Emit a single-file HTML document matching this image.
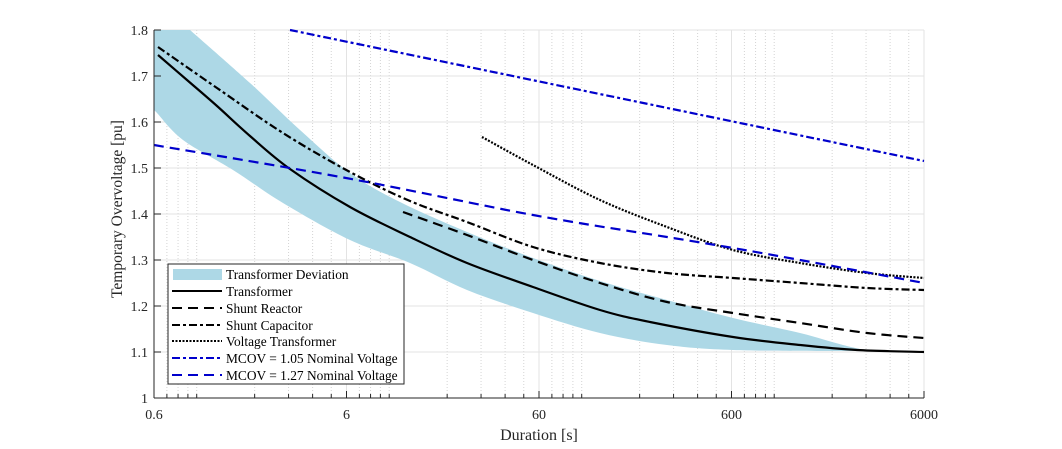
<!DOCTYPE html>
<html><head><meta charset="utf-8"><style>
body{margin:0;background:#fff;}
svg{display:block;font-family:"Liberation Serif",serif;}
</style></head><body>
<svg id="s" width="1062" height="449" viewBox="0 0 1062 449" xmlns="http://www.w3.org/2000/svg">
<g id="grid"></g>
<g id="band"></g>
<g id="curves" fill="none" stroke-width="2.2"></g>
<line x1="154" y1="30" x2="154" y2="398" stroke="#262626" stroke-width="1"/>
<line x1="154" y1="398" x2="924" y2="398" stroke="#262626" stroke-width="1"/>
<g id="ticks"></g>
<g font-size="14" fill="#262626" id="labels"></g>
<text x="539" y="440" font-size="16" text-anchor="middle" fill="#262626">Duration [s]</text>
<text transform="translate(122,209) rotate(-90)" font-size="15.5" text-anchor="middle" fill="#262626">Temporary Overvoltage [pu]</text>
<rect x="168" y="264" width="236" height="120" fill="#fff" stroke="#262626" stroke-width="1"/>
<rect x="173" y="269" width="49" height="11" fill="#add8e6"/>
<g stroke-width="2">
<line x1="172" y1="291" x2="222" y2="291" stroke="#000"/>
<line x1="172" y1="308" x2="222" y2="308" stroke="#000" stroke-dasharray="10,6"/>
<line x1="172" y1="325" x2="222" y2="325" stroke="#000" stroke-dasharray="8,3,3,3"/>
<line x1="172" y1="341" x2="222" y2="341" stroke="#000" stroke-dasharray="2,1.5"/>
<line x1="172" y1="358" x2="222" y2="358" stroke="#0000cc" stroke-dasharray="8,3,3,3"/>
<line x1="172" y1="375" x2="222" y2="375" stroke="#0000cc" stroke-dasharray="10,6"/>
</g>
<g font-size="13.4" fill="#000">
<text x="226" y="279">Transformer Deviation</text>
<text x="226" y="296">Transformer</text>
<text x="226" y="313">Shunt Reactor</text>
<text x="226" y="330">Shunt Capacitor</text>
<text x="226" y="346">Voltage Transformer</text>
<text x="226" y="363">MCOV = 1.05 Nominal Voltage</text>
<text x="226" y="380">MCOV = 1.27 Nominal Voltage</text>
</g>
</svg>
<script>
var ns="http://www.w3.org/2000/svg";
function el(p,t,a,txt){var e=document.createElementNS(ns,t);for(var k in a)e.setAttribute(k,a[k]);if(txt)e.textContent=txt;document.getElementById(p).appendChild(e);return e;}
function X(v){return 154+192.5*Math.log10(v/0.6);}
function Y(v){return 398-(v-1)*460;}
function cr(P,move){var d=move?"M"+P[0][0]+","+P[0][1]:"L"+P[0][0]+","+P[0][1];
for(var i=0;i<P.length-1;i++){var p0=P[Math.max(0,i-1)],p1=P[i],p2=P[i+1],p3=P[Math.min(P.length-1,i+2)];
d+=" C"+(p1[0]+(p2[0]-p0[0])/6)+","+(p1[1]+(p2[1]-p0[1])/6)+" "+(p2[0]-(p3[0]-p1[0])/6)+","+(p2[1]-(p3[1]-p1[1])/6)+" "+p2[0]+","+p2[1];}return d;}
var ms=[0.7,0.8,0.9,1,2,3,4,5];
for(var d=0;d<4;d++){var f=Math.pow(10,d);for(var i=0;i<ms.length;i++){var v=ms[i]*f;if(v>=6000)continue;var x=X(v);
el("grid","line",{x1:x,y1:30,x2:x,y2:398,stroke:"#d4d4d4","stroke-width":1,"stroke-dasharray":"1,2"});
el("ticks","line",{x1:x,y1:398,x2:x,y2:394,stroke:"#262626","stroke-width":1});}}
var maj=[0.6,6,60,600,6000],lab=["0.6","6","60","600","6000"];
for(var i=0;i<5;i++){var x=X(maj[i]);
el("grid","line",{x1:x,y1:30,x2:x,y2:398,stroke:"#e3e3e3","stroke-width":1});
el("ticks","line",{x1:x,y1:398,x2:x,y2:391,stroke:"#262626","stroke-width":1});
el("labels","text",{x:x,y:419,"text-anchor":"middle"},lab[i]);}
for(var j=0;j<=8;j++){var v=1+j/10,y=Y(v);
el("grid","line",{x1:154,y1:y,x2:924,y2:y,stroke:"#e3e3e3","stroke-width":1});
el("ticks","line",{x1:154,y1:y,x2:161,y2:y,stroke:"#262626","stroke-width":1});
el("labels","text",{x:148,y:y+5,"text-anchor":"end"},j==0?"1":v.toFixed(1));}
var up=[[190,30],[250,83],[300,130],[350,173],[400,202],[467,232],[533,258],[600,281],[667,300],[733,318],[800,333],[843,345],[870,351]];
var lo=[[833,351],[733,350],[667,345],[600,333],[533,313],[467,290],[410,263],[350,240],[283,203],[233,170],[183,140],[157,113],[154,110]];
el("band","path",{d:"M154,30 "+cr(up,false)+" "+cr(lo,false)+" Z",fill:"#add8e6"});
var C=[
["#000","",[[158,55],[187,80],[217,106],[250,136],[290,169],[350,207],[410,237],[467,263],[533,287],[600,310],[650,322],[733,337],[800,345],[857,350],[924,352]]],
["#000","10,6",[[403,212],[467,235],[533,260],[600,283],[667,302],[733,313],[800,323],[867,333],[924,338]]],
["#000","8,3,3,3",[[158,47],[217,88],[283,133],[350,172],[410,201],[467,222],[533,247],[600,263],[667,273],[733,278],[800,283],[867,288],[924,290]]],
["#000","2,1.5",[[482,137],[533,165],[600,200],[667,227],[733,250],[800,263],[867,273],[924,278]]],
["#0000cc","8,3,3,3",[[290,30],[924,161]]],
["#0000cc","10,6",[[154,145],[346,178],[533,215],[667,237],[733,248],[800,260],[924,283]]]];
for(var k=0;k<C.length;k++){var a={d:cr(C[k][2],true),stroke:C[k][0]};if(C[k][1])a["stroke-dasharray"]=C[k][1];el("curves","path",a);}
</script>
</body></html>
